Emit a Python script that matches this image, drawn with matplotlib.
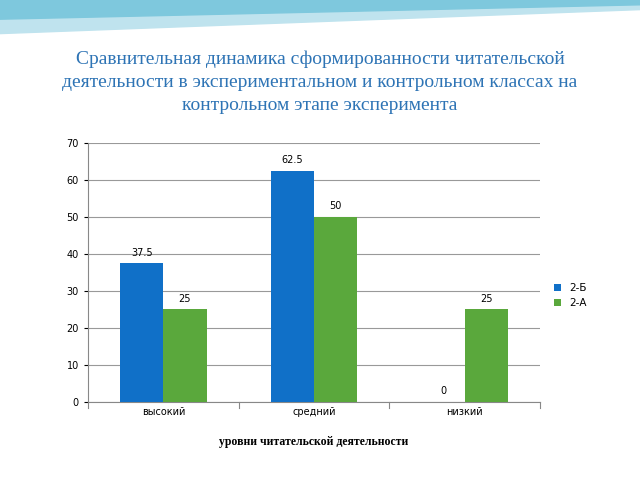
import matplotlib
matplotlib.use("Agg")
import matplotlib.pyplot as plt
import numpy as np

categories = ["высокий", "средний", "низкий"]
series_names = ["2-Б", "2-А"]
values_b = [37.5, 62.5, 0]
values_a = [25, 50, 25]
value_labels_b = ["37.5", "62.5", "0"]
value_labels_a = ["25", "50", "25"]

fig = plt.figure(figsize=(6.4, 4.8), dpi=100)
fig.patch.set_facecolor("white")

# decorative top band
bg = fig.add_axes([0, 0.9, 1, 0.1])
bg.axis("off")
xs = np.linspace(0, 1, 200)
bg.fill_between(xs, 0.3 + 0.5 * xs, 1, color="#BFE3EE")
bg.fill_between(xs, 0.6 + 0.3 * xs, 1, color="#7EC8DD")
bg.set_xlim(0, 1); bg.set_ylim(0, 1)

fig.text(0.5, 0.829, "Сравнительная динамика сформированности читательской\n"
         "деятельности в экспериментальном и контрольном классах на\n"
         "контрольном этапе эксперимента", ha="center", va="center",
         fontsize=14, color="#2E74B5", family="Liberation Serif", linespacing=1.45)

ax = fig.add_axes([0.1375, 0.1625, 0.7065, 0.54])
x = np.arange(len(categories))
w = 0.287
b1 = ax.bar(x - w / 2, values_b, w, color="#1070C8", label=series_names[0], zorder=3)
b2 = ax.bar(x + w / 2, values_a, w, color="#5AA83C", label=series_names[1], zorder=3)
for bars, labs in ((b1, value_labels_b), (b2, value_labels_a)):
    for r, l in zip(bars, labs):
        ax.text(r.get_x() + r.get_width() / 2, r.get_height() + 1.5, l,
                ha="center", va="bottom", fontsize=7)
ax.set_xlim(-0.5, 2.5)
ax.set_ylim(0, 70)
ax.set_yticks(range(0, 71, 10))
ax.set_xticks(x)
ax.set_xticklabels(categories, fontsize=7)
ax.tick_params(axis="y", labelsize=7, length=3)
ax.tick_params(axis="x", length=0)
for p in (-0.5, 0.5, 1.5, 2.5):
    ax.plot([p, p], [0, -1.5], color="#888888", lw=0.8, clip_on=False)
ax.grid(axis="y", color="#999999", lw=0.8, zorder=0)
for s in ("top", "right"):
    ax.spines[s].set_visible(False)
ax.spines["left"].set_color("#888888")
ax.spines["bottom"].set_color("#888888")
ax.set_xlabel("уровни читательской деятельности", fontsize=8.5, fontweight="bold",
              family="Liberation Serif", labelpad=14)
ax.legend(loc="center left", bbox_to_anchor=(1.01, 0.41), frameon=False,
          fontsize=7.5, handlelength=0.7, handleheight=0.7)

fig.savefig("out.png", dpi=100)
